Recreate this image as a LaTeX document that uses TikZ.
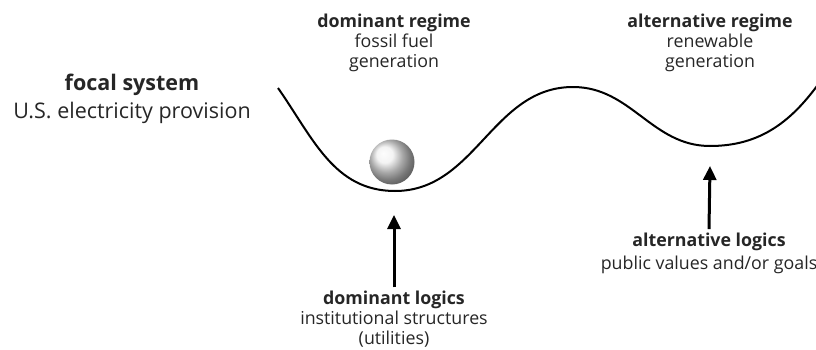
\documentclass[tikz,border=0pt]{standalone}
\usepackage{fontspec}
\setmainfont{Open Sans}
\usetikzlibrary{arrows.meta,positioning}

\tikzset{
  bigtxt/.style={align=center,text=black!85,font=\fontsize{21.5}{28}\selectfont},
  smalltxt/.style={align=center,text=black!85,font=\fontsize{17.8}{20}\selectfont},
  valley/.style={line width=2pt},
  push/.style={line width=3pt,-{Triangle[length=14pt,width=13pt]}},
}

\begin{document}
\begin{tikzpicture}[x=1pt,y=1pt]
\useasboundingbox (0,0) rectangle (816,349);

% Define the landscape.
\draw[valley] (278,261) to[out=-55,in=180] (395,158) to[out=0,in=180] (573,262)
  to[out=0,in=180] (710,203) to[out=0,in=-125] (822,270);

% The ball sits in the dominant valley.
\shade[ball color=gray!12] (392,187) circle (22.5);

\node[bigtxt] (focal) at (132,250) {\textbf{focal system}\\U.S. electricity provision};

\node[smalltxt] (domreg) at (394,306) {\textbf{dominant regime}\\fossil fuel\\generation};
\node[smalltxt] (altreg) at (710,306) {\textbf{alternative regime}\\renewable\\generation};

\node[smalltxt] (domlog) at (394,30) {\textbf{dominant logics}\\institutional structures\\(utilities)};
\node[smalltxt,font=\fontsize{17.8}{23}\selectfont] (altlog) at (709,96) {\textbf{alternative logics}\\public values and/or goals};

\coordinate (domtip) at (394,134);
\coordinate (alttip) at (710,183);

\draw[push] (domlog.north) -- (domtip);
\draw[push] (altlog.north) -- (alttip);

\end{tikzpicture}
\end{document}
